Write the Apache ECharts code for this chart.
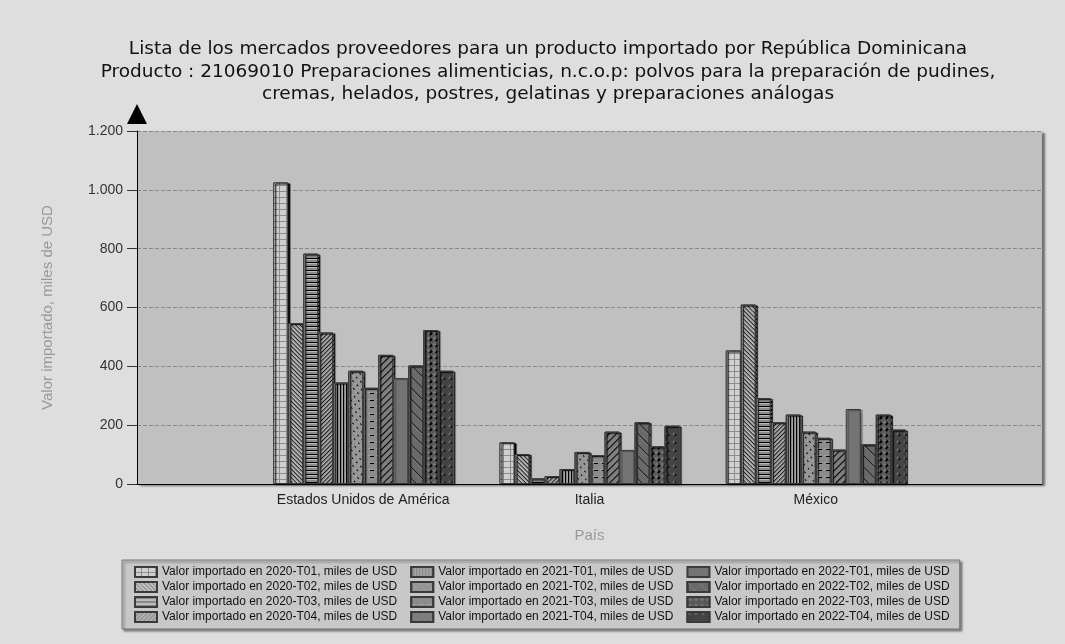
<!DOCTYPE html>
<html>
<head>
<meta charset="utf-8">
<script src="https://cdn.jsdelivr.net/npm/echarts@6/dist/echarts.min.js"></script>
<style>
  html, body { margin: 0; padding: 0; background: #dedede; }
  #chart { width: 1065px; height: 644px; }
</style>
</head>
<body>
<div id="chart"></div>
<script>
// data
const countries = ['Estados Unidos de América', 'Italia', 'México'];
const quarters = ['2020-T01', '2020-T02', '2020-T03', '2020-T04',
                  '2021-T01', '2021-T02', '2021-T03', '2021-T04',
                  '2022-T01', '2022-T02', '2022-T03', '2022-T04'];
const valuesUSA    = [1025, 547, 783, 515, 345, 385, 327, 439, 360, 403, 523, 385];
const valuesItalia = [142, 102, 19, 27, 51, 109, 98, 178, 116, 210, 128, 198];
const valuesMexico = [454, 610, 292, 210, 236, 178, 157, 117, 255, 135, 236, 185];
const yTicks = [0, 200, 400, 600, 800, 1000, 1200];

// fill + hatch for each quarter (grey-scale like the original)
const D = Math.PI / 4;
const styles = [
  { fill: '#d0d0d0', decal: { symbol: 'rect', color: '#d0d0d0', backgroundColor: '#8c8c8c', dashArrayX: [6, 1], dashArrayY: [5, 1], symbolSize: 1 } },
  { fill: '#c0c0c0', decal: { symbol: 'rect', color: '#8a8a8a', dashArrayX: [1, 0], dashArrayY: [1, 2], rotation: D, symbolSize: 1 } },
  { fill: '#bababa', decal: { symbol: 'rect', color: '#8a8a8a', dashArrayX: [1, 0], dashArrayY: [2, 2], symbolSize: 1 } },
  { fill: '#b0b0b0', decal: { symbol: 'rect', color: '#8c8c8c', dashArrayX: [1, 0], dashArrayY: [1, 2], rotation: -D, symbolSize: 1 } },
  { fill: '#a4a4a4', decal: { symbol: 'rect', color: '#858585', dashArrayX: [1, 0], dashArrayY: [1, 2], rotation: Math.PI / 2, symbolSize: 1 } },
  { fill: '#959595', decal: { symbol: 'rect', color: '#aaaaaa', dashArrayX: [2, 4], dashArrayY: [1, 4], rotation: D, symbolSize: 1 } },
  { fill: '#8c8c8c', decal: { symbol: 'rect', color: '#a0a0a0', dashArrayX: [4, 4], dashArrayY: [1, 6], symbolSize: 1 } },
  { fill: '#7c7c7c', decal: { symbol: 'rect', color: '#848484', dashArrayX: [1, 0], dashArrayY: [1, 4], rotation: -D, symbolSize: 1 } },
  { fill: '#747474', decal: null },
  { fill: '#6a6a6a', decal: { symbol: 'rect', color: '#787878', dashArrayX: [1, 0], dashArrayY: [1, 7], rotation: D, symbolSize: 1 } },
  { fill: '#585858', decal: { symbol: 'diamond', color: '#737373', dashArrayX: [5, 1], dashArrayY: [5, 1], symbolSize: 0.9 } },
  { fill: '#444444', decal: { symbol: 'triangle', color: '#7a7a7a', dashArrayX: [3, 4], dashArrayY: [3, 5], symbolSize: 0.8 } }
];

const axisCats = [''].concat(countries, ['']);
const series = quarters.map((q, i) => ({
  name: 'Valor importado en ' + q + ', miles de USD',
  type: 'bar',
  barWidth: 15,
  barGap: '0%',
  data: [null, valuesUSA[i], valuesItalia[i], valuesMexico[i], null],
  itemStyle: {
    color: styles[i].fill,
    decal: styles[i].decal || undefined,
    borderColor: '#3a3a3a',
    borderWidth: 1,
    shadowColor: 'rgba(0,0,0,0.35)',
    shadowOffsetX: 2,
    shadowOffsetY: 1,
    shadowBlur: 1
  }
}));

const chart = echarts.init(document.getElementById('chart'));
chart.setOption({
  animation: false,
  backgroundColor: '#dedede',
  title: {
    text: 'Lista de los mercados proveedores para un producto importado por República Dominicana\n' +
          'Producto : 21069010 Preparaciones alimenticias, n.c.o.p: polvos para la preparación de pudines,\n' +
          'cremas, helados, postres, gelatinas y preparaciones análogas',
    left: 543,
    top: 33,
    textAlign: 'center',
    textStyle: { fontFamily: 'DejaVu Sans', fontSize: 18.5, fontWeight: 'normal', color: '#111', lineHeight: 22.5 }
  },
  grid: {
    left: 137, right: 23, top: 131, bottom: 160,
    show: true,
    backgroundColor: '#c0c0c0',
    borderWidth: 0,
    shadowColor: 'rgba(0,0,0,0.5)',
    shadowOffsetX: 3,
    shadowOffsetY: 2,
    shadowBlur: 2
  },
  legend: {
    orient: 'vertical',
    left: 122,
    top: 560,
    height: 64,
    padding: [6, 0, 6, 12],
    itemGap: 3,
    itemWidth: 22,
    itemHeight: 10,
    icon: 'rect',
    backgroundColor: '#c8c8c8',
    borderColor: '#777',
    borderWidth: 1,
    shadowColor: 'rgba(0,0,0,0.4)',
    shadowOffsetX: 2,
    shadowOffsetY: 2,
    shadowBlur: 2,
    formatter: name => name + '   ',
    textStyle: { fontFamily: 'Liberation Sans', fontSize: 12, color: '#111' }
  },
  xAxis: {
    type: 'category',
    data: axisCats,
    boundaryGap: false,
    name: 'País',
    nameLocation: 'middle',
    nameGap: 44,
    nameTextStyle: { fontFamily: 'Liberation Sans', fontSize: 15, color: '#999' },
    axisLine: { lineStyle: { color: '#000', width: 1 } },
    axisTick: { show: false },
    axisLabel: { fontFamily: 'Liberation Sans', fontSize: 14, color: '#222', margin: 9, interval: 0 },
    splitLine: { show: false }
  },
  yAxis: {
    type: 'value',
    min: yTicks[0],
    max: yTicks[yTicks.length - 1],
    interval: yTicks[1] - yTicks[0],
    name: 'Valor importado, miles de USD',
    nameLocation: 'middle',
    nameGap: 82,
    nameTextStyle: { fontFamily: 'Liberation Sans', fontSize: 15, color: '#999' },
    axisLine: {
      show: true,
      lineStyle: { color: '#000', width: 1 },
      symbol: ['none', 'triangle'],
      symbolSize: [20, 20],
      symbolOffset: [0, 17]
    },
    axisTick: { show: true, length: 10, lineStyle: { color: '#333' } },
    axisLabel: {
      fontFamily: 'Liberation Sans', fontSize: 14, color: '#333', margin: 14,
      formatter: v => String(v).replace(/\B(?=(\d{3})+(?!\d))/g, '.')
    },
    splitLine: { lineStyle: { color: '#888', type: [4, 2] } }
  },
  series: series
});
</script>
</body>
</html>
